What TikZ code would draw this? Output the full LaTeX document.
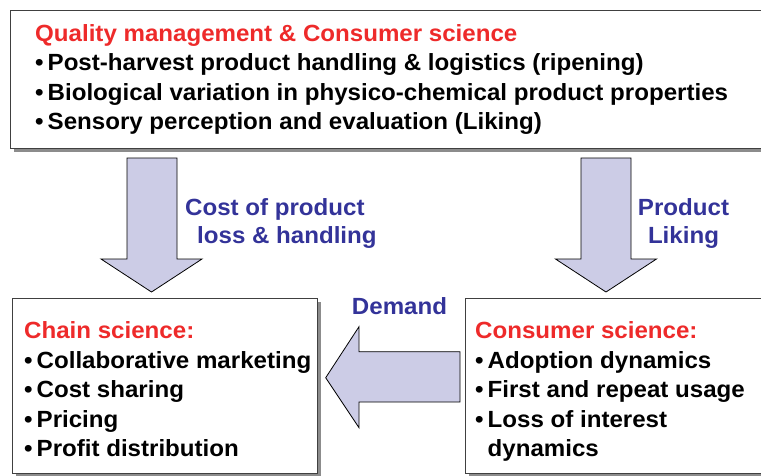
\documentclass[tikz,border=0pt]{standalone}
\usepackage{fontspec}
\setmainfont[FakeStretch=1.03]{Liberation Sans}
\usepackage{xcolor}
\usepackage{tikz}
\usetikzlibrary{shadows}
\definecolor{titlered}{HTML}{EE2A2A}
\definecolor{labelblue}{HTML}{333399}
\definecolor{arrowfill}{HTML}{CCCCE6}
\definecolor{boxline}{HTML}{404040}
\definecolor{shadowgray}{HTML}{8C8C8C}

% bullet and matching indent for list lines
\newcommand{\bitem}{\makebox[12.5pt][l]{\textbullet}}
\newcommand{\bskip}{\hspace*{12.5pt}}

\tikzset{
    panel/.style={
        draw=boxline,
        line width=1.3pt,
        fill=white,
        anchor=north west,
        inner sep=0pt,
        drop shadow={shadow xshift=3.5pt, shadow yshift=-3.5pt, fill=shadowgray, opacity=1}
    },
    paneltext/.style={
        anchor=north west,
        inner sep=0pt,
        align=left,
        font=\fontsize{23.4}{29.5}\selectfont\bfseries
    },
    flowlabel/.style={
        inner sep=0pt,
        align=center,
        text=labelblue,
        font=\fontsize{23.4}{28}\selectfont\bfseries
    },
    blockarrow/.style={
        draw=black,
        line width=0.8pt,
        fill=arrowfill,
        line join=miter
    }
}

\begin{document}
\begin{tikzpicture}[x=1pt, y=-1pt]
    \useasboundingbox (0,0) rectangle (761,475);

    % Quality panel
    \node[panel, minimum width=760pt, minimum height=138pt] (quality) at (10,10) {};
    \node[paneltext] (qualitytext) at (35,24) {
        {\color{titlered}Quality management \& Consumer science}\\
        \bitem Post-harvest product handling \& logistics (ripening)\\
        \bitem Biological variation in physico-chemical product properties\\
        \bitem Sensory perception and evaluation (Liking)
    };

    % Chain panel
    \node[panel, minimum width=305pt, minimum height=175pt] (chain) at (12,298) {};
    \node[paneltext] (chaintext) at (24,321.5) {
        {\color{titlered}Chain science:}\\
        \bitem Collaborative marketing\\
        \bitem Cost sharing\\
        \bitem Pricing\\
        \bitem Profit distribution
    };

    % Consumer panel
    \node[panel, minimum width=310pt, minimum height=175pt] (consumer) at (465,298) {};
    \node[paneltext] (consumertext) at (475,321.5) {
        {\color{titlered}Consumer science:}\\
        \bitem Adoption dynamics\\
        \bitem First and repeat usage\\
        \bitem Loss of interest\\
        \bskip dynamics
    };

    % Block arrows
    \draw[blockarrow] (127,158) -- (177,158) -- (177,259) -- (202,259)
        -- (151.5,292) -- (101,259) -- (127,259) -- cycle;
    \draw[blockarrow] (581,158) -- (631,158) -- (631,259) -- (656.5,259)
        -- (606,292) -- (555.5,259) -- (581,259) -- cycle;
    \draw[blockarrow] (460,351.7) -- (460,402) -- (359,402) -- (359,427.7)
        -- (325.7,377.7) -- (359,326.7) -- (359,351.7) -- cycle;

    % Arrow labels
    \node[flowlabel, align=left, anchor=north west] (costlabel) at (185,198) {
        Cost of product\\
        \hspace*{12pt}loss \& handling
    };
    \node[flowlabel, anchor=north] (likinglabel) at (683.5,198) {
        Product\\
        Liking
    };
    \node[flowlabel, anchor=north] (demandlabel) at (399.5,297) {Demand};
\end{tikzpicture}
\end{document}
